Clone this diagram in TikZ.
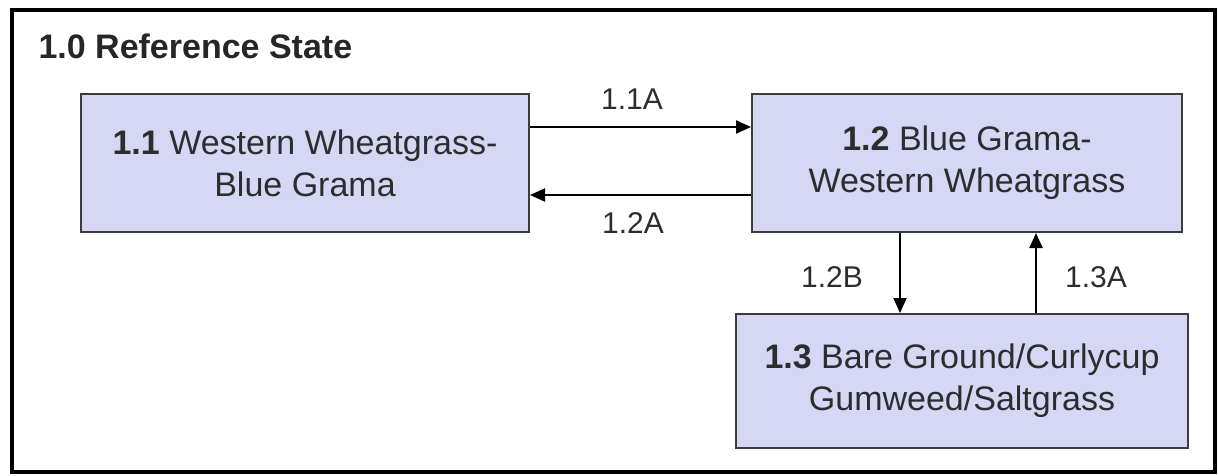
\documentclass[tikz,border=0pt]{standalone}
\usepackage{fontspec}
\setmainfont{Liberation Sans}
\usetikzlibrary{arrows.meta}
\definecolor{statefill}{RGB}{214,214,245}
\definecolor{stateline}{RGB}{60,60,60}
\definecolor{statetext}{RGB}{45,45,45}
\tikzset{
  x=1pt, y=-1pt,
  statebox/.style={draw=stateline, line width=2pt, fill=statefill, inner sep=0pt,
    align=center, text=statetext, font=\fontsize{34}{42}\selectfont},
  trans/.style={line width=2pt, -{Triangle[length=15pt,width=13pt]}},
  translabel/.style={font=\fontsize{30}{36}\selectfont, text=statetext},
}
\begin{document}
\begin{tikzpicture}
\useasboundingbox (0,0) rectangle (1218,475);
\clip (0,0) rectangle (1218,475);
% outer frame of the state
\draw[line width=4pt] (12,10) rectangle (1215,472);
\node[anchor=base west, font=\bfseries\fontsize{34}{40}\selectfont, text=black!85] (title) at (35,58) {1.0 Reference State};
% community phases
\node[statebox, minimum width=448pt, minimum height=138pt] (b11) at (305,163)
  {\textbf{1.1} Western Wheatgrass-\\Blue Grama};
\node[statebox, minimum width=430pt, minimum height=138pt] (b12) at (967,163)
  {\textbf{1.2} Blue Grama-\\Western Wheatgrass};
\node[statebox, minimum width=452pt, minimum height=134pt] (b13) at (962,381)
  {\textbf{1.3} Bare Ground/Curlycup\\Gumweed/Saltgrass};
% transitions
\draw[trans] ([yshift=36pt]b11.east) -- ([yshift=36pt]b12.west);
\draw[trans] ([yshift=-32pt]b12.west) -- ([yshift=-32pt]b11.east);
\draw[trans] ([xshift=-67pt]b12.south) -- ([xshift=-62pt]b13.north);
\draw[trans] ([xshift=74pt]b13.north) -- ([xshift=69pt]b12.south);
\node[translabel] (l11) at (632,99) {1.1A};
\node[translabel] (l12) at (633,223) {1.2A};
\node[translabel] (l12b) at (832,277) {1.2B};
\node[translabel] (l13) at (1096,277) {1.3A};
\end{tikzpicture}
\end{document}
